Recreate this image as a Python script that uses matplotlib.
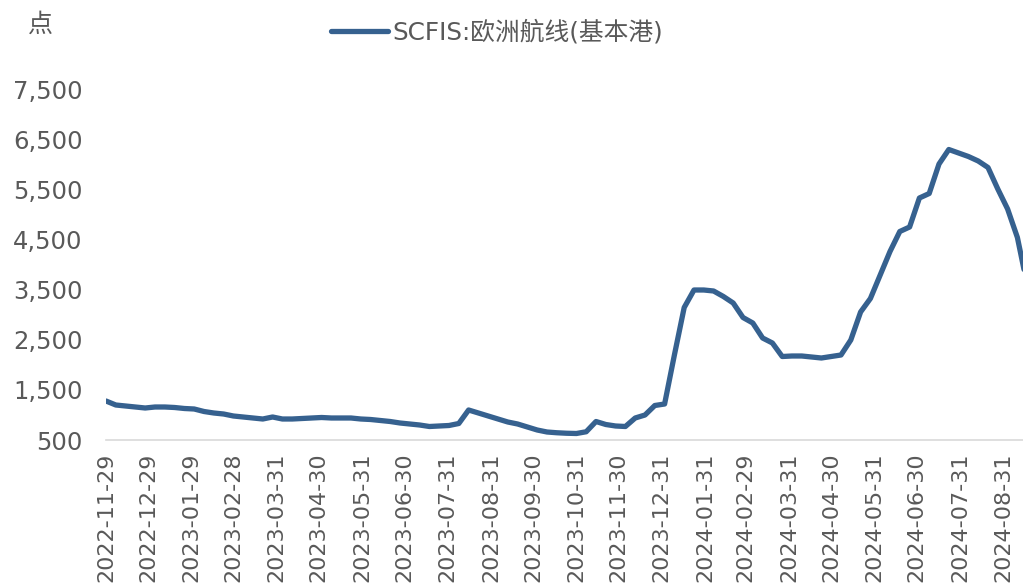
import numpy as np
import pandas as pd
import matplotlib
matplotlib.use("Agg")
import matplotlib.pyplot as plt

# --- data (weekly) ---
start_date = "2022-11-29"
scfis_values = [
    1280, 1200, 1180, 1160, 1140, 1160, 1160, 1150, 1130, 1120,
    1070, 1040, 1020, 980, 960, 940, 920, 960, 920, 920,
    930, 940, 950, 940, 940, 940, 920, 910, 890, 870,
    840, 820, 800, 770, 780, 790, 830, 1100, 1040, 980,
    920, 860, 820, 760, 700, 660, 645, 635, 630, 665,
    870, 810, 780, 770, 940, 1000, 1190, 1220, 2200, 3150,
    3500, 3500, 3480, 3370, 3240, 2950, 2840, 2540, 2440, 2170,
    2180, 2180, 2160, 2140, 2170, 2200, 2500, 3060, 3330, 3800,
    4270, 4670, 4760, 5340, 5430, 6020, 6310, 6240, 6170, 6080,
    5950, 5520, 5120, 4550, 3600,
]
dates = pd.date_range(start_date, periods=len(scfis_values), freq="7D")

tick_labels = [
    "2022-11-29", "2022-12-29", "2023-01-29", "2023-02-28", "2023-03-31",
    "2023-04-30", "2023-05-31", "2023-06-30", "2023-07-31", "2023-08-31",
    "2023-09-30", "2023-10-31", "2023-11-30", "2023-12-31", "2024-01-31",
    "2024-02-29", "2024-03-31", "2024-04-30", "2024-05-31", "2024-06-30",
    "2024-07-31", "2024-08-31",
]
y_ticks = [500, 1500, 2500, 3500, 4500, 5500, 6500, 7500]

series_name = "SCFIS:欧洲航线(基本港)"
unit_label = "点"

# --- style ---
LINE_COLOR = "#36618F"
TEXT_COLOR = "#595959"
FONTS = ["DejaVu Sans", "Noto Sans CJK SC"]
plt.rcParams["font.family"] = FONTS

fig = plt.figure(figsize=(10.23, 5.86), dpi=100)
ax = fig.add_axes([106 / 1023, 1 - 440 / 586, 917 / 1023, 350 / 586])

ax.plot(dates, scfis_values, color=LINE_COLOR, lw=3.8, solid_joinstyle="round",
        solid_capstyle="round", label=series_name)

ax.set_xlim(pd.Timestamp(start_date), pd.Timestamp(start_date) + pd.Timedelta(days=655))
ax.set_ylim(500, 7500)

ax.set_xticks(pd.to_datetime(tick_labels))
ax.set_xticklabels(tick_labels, rotation=90, fontsize=16, color=TEXT_COLOR)
ax.set_yticks(y_ticks)
ax.set_yticklabels([f"{v:,}" for v in y_ticks], fontsize=17.5, color=TEXT_COLOR)
ax.tick_params(axis="x", length=0, pad=9)
ax.tick_params(axis="y", length=0, pad=17)

for side in ["top", "right", "left"]:
    ax.spines[side].set_visible(False)
ax.spines["bottom"].set_color("#D9D9D9")
ax.spines["bottom"].set_linewidth(1.2)

fig.text(40 / 1023, 1 - 25 / 586, unit_label, fontsize=18, color=TEXT_COLOR,
         ha="center", va="center", family=["Noto Sans CJK SC", "DejaVu Sans"])

fig.legend(loc="center", bbox_to_anchor=(497 / 1023, 1 - 32 / 586), frameon=False,
           fontsize=17.8, labelcolor=TEXT_COLOR, handlelength=2.3, handletextpad=0.15)

fig.savefig("out.png", dpi=100)
